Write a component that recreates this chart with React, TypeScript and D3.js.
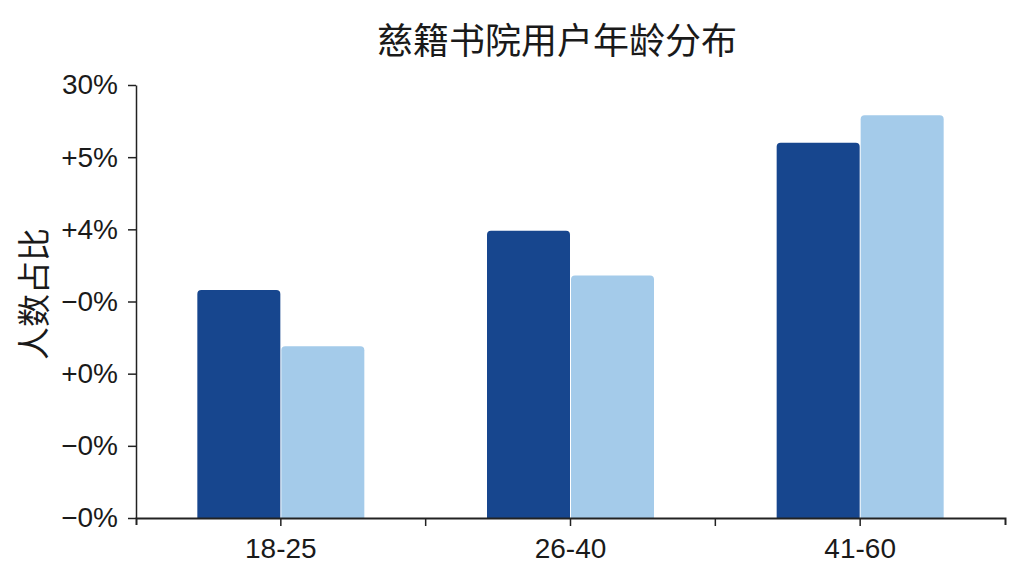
import React, { useEffect, useRef } from 'react';
import * as d3 from 'd3';

const categories = ['18-25', '26-40', '41-60'];
const seriesA = [15.8, 19.9, 26.0];
const seriesB = [11.9, 16.8, 27.9];
const tickValues = [0, 5, 10, 15, 20, 25, 30];
const tickLabels = ['\u22120%', '\u22120%', '+0%', '\u22120%', '+4%', '+5%', '30%'];

const width = 1024;
const height = 576;
const margin = { top: 85, right: 19, bottom: 58, left: 136 };

const colors = ['#17468e', '#a4cbea'];

const topRounded = (x: number, y: number, w: number, h: number, r: number) => {
  const rr = Math.min(r, h, w / 2);
  return `M${x},${y + h}V${y + rr}Q${x},${y} ${x + rr},${y}H${x + w - rr}Q${x + w},${y} ${x + w},${y + rr}V${y + h}Z`;
};

const App: React.FC = () => {
  const svgRef = useRef<SVGSVGElement>(null);

  useEffect(() => {
    if (!svgRef.current) return;
    const svg = d3.select(svgRef.current);
    svg.selectAll('*').remove();

    const innerW = width - margin.left - margin.right;
    const innerH = height - margin.top - margin.bottom;

    const x = d3.scaleBand().domain(categories).range([0, innerW]);
    const y = d3.scaleLinear().domain([0, 30]).range([innerH, 0]);

    const g = svg.append('g').attr('transform', `translate(${margin.left},${margin.top})`);

    // title
    svg.append('text')
      .attr('x', 557)
      .attr('y', 54)
      .attr('text-anchor', 'middle')
      .attr('font-family', '"Noto Sans CJK SC", sans-serif')
      .attr('font-size', 36)
      .attr('fill', '#1a1a1a')
      .text('慈籍书院用户年龄分布');

    // y label
    svg.append('text')
      .attr('transform', 'translate(46,294) rotate(-90)')
      .attr('text-anchor', 'middle')
      .attr('font-family', '"Noto Sans CJK SC", sans-serif')
      .attr('font-size', 33)
      .attr('fill', '#1a1a1a')
      .text('人数占比');

    // bars
    const barW = 83;
    const series = [seriesA, seriesB];
    series.forEach((vals, si) => {
      g.selectAll(`.bar${si}`)
        .data(vals)
        .enter()
        .append('path')
        .attr('fill', colors[si])
        .attr('d', (d, i) => {
          const cx = (x(categories[i]) || 0) + x.bandwidth() / 2;
          const bx = si === 0 ? cx - barW - 0.5 : cx + 0.5;
          return topRounded(bx, y(d), barW, innerH - y(d), 4);
        });
    });

    // y axis
    const yAxis = g.append('g')
      .call(
        d3.axisLeft(y)
          .tickValues(tickValues)
          .tickSize(8)
          .tickSizeOuter(0)
          .tickFormat((_, i) => tickLabels[i])
      );
    yAxis.select('.domain').attr('stroke', '#222').attr('stroke-width', 1.5);
    yAxis.selectAll('.tick line').attr('stroke', '#222').attr('stroke-width', 1.5);
    yAxis.selectAll('.tick text')
      .attr('x', -18)
      .attr('font-family', '"Liberation Sans", Arial, sans-serif')
      .attr('font-size', 28)
      .attr('fill', '#1a1a1a');

    // x axis
    const xAxis = g.append('g')
      .attr('transform', `translate(0,${innerH})`)
      .call(d3.axisBottom(x).tickSize(8).tickSizeOuter(7));
    xAxis.select('.domain').attr('stroke', '#222').attr('stroke-width', 2);
    xAxis.selectAll('.tick line').attr('stroke', '#222').attr('stroke-width', 1.5);
    xAxis.selectAll('.tick text')
      .attr('y', 20)
      .attr('font-family', '"Liberation Sans", Arial, sans-serif')
      .attr('font-size', 28)
      .attr('fill', '#1a1a1a');

    // boundary ticks between categories
    g.append('g')
      .selectAll('line')
      .data(categories.slice(1))
      .enter()
      .append('line')
      .attr('x1', d => x(d) || 0)
      .attr('x2', d => x(d) || 0)
      .attr('y1', innerH)
      .attr('y2', innerH + 8)
      .attr('stroke', '#222')
      .attr('stroke-width', 1.5);
  }, []);

  return (
    <svg
      ref={svgRef}
      width={width}
      height={height}
      style={{ position: 'fixed', left: 0, top: 0, background: '#fff' }}
    />
  );
};

export default App;
